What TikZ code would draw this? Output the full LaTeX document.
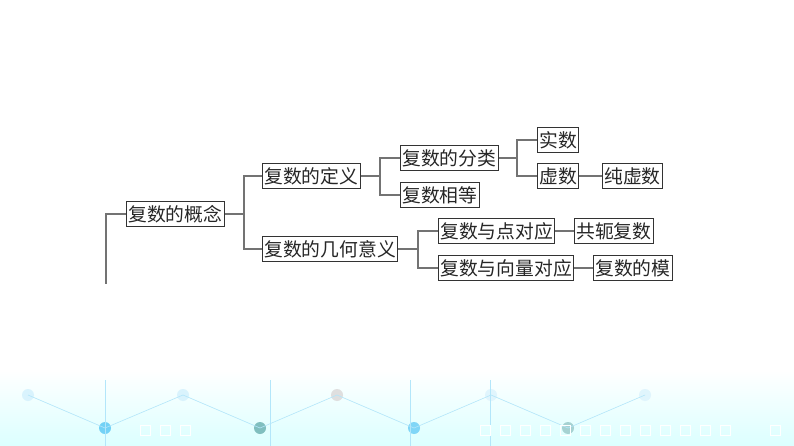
\documentclass[tikz,border=0pt]{standalone}
\usepackage{fontspec}
\newfontfamily\cjk{Noto Sans CJK SC}
\begin{document}
\begin{tikzpicture}[x=1pt,y=-1pt,
  bx/.style={draw=black!80,line width=0.9pt,fill=white,inner sep=1.8pt,anchor=west,font=\cjk\fontsize{18.8}{19}\selectfont,text=black!85,minimum height=25pt},
  ln/.style={draw=black!55,line width=1.2pt}]
\useasboundingbox (0,0) rectangle (794,446);
\shade[top color=white,bottom color=cyan!14] (0,370) rectangle (794,446);
\foreach \x/\y/\c in {28/395/cyan!15,183/395/cyan!15,337/395/gray!25,491/395/cyan!12,645/395/cyan!12,105/428/cyan!55,260/428/teal!50,414/428/cyan!50,568/428/teal!35}
  \fill[\c] (\x,\y) circle (6);
\draw[cyan!30,line width=0.6pt] (28,395)--(105,428)--(183,395)--(260,428)--(337,395)--(414,428)--(491,395)--(568,428)--(645,395);
\draw[cyan!30,line width=0.6pt] (105,380)--(105,446) (270,380)--(270,446) (410,380)--(410,446) (490,380)--(490,446);
\foreach \x in {140,160,180,480,500,520,540,560,580,600,620,640,660,680,700,720,770}
  \draw[white,line width=0.8pt] (\x,425) rectangle ++(10,10);
\node[bx] (a) at (126,214) {复数的概念};
\node[bx] (b) at (262,176) {复数的定义};
\node[bx] (c) at (262,249) {复数的几何意义};
\node[bx] (d) at (400,158) {复数的分类};
\node[bx] (e) at (400,195) {复数相等};
\node[bx] (f) at (537,140) {实数};
\node[bx] (g) at (537,176) {虚数};
\node[bx] (h) at (602,176) {纯虚数};
\node[bx] (i) at (438,231) {复数与点对应};
\node[bx] (j) at (574,231) {共轭复数};
\node[bx] (k) at (438,268) {复数与向量对应};
\node[bx] (l) at (593,268) {复数的模};
\coordinate (top0) at (106,284);
\draw[ln] (a.west) -| (top0);
\coordinate (m1) at (244,214);
\draw[ln] (a.east) -- (m1);
\draw[ln] (b.west) -| (m1) |- (c.west);
\coordinate (m2) at (380,176);
\draw[ln] (b.east) -- (m2);
\draw[ln] (d.west) -| (m2) |- (e.west);
\coordinate (m3) at (418,249);
\draw[ln] (c.east) -- (m3);
\draw[ln] (i.west) -| (m3) |- (k.west);
\coordinate (m4) at (517,158);
\draw[ln] (d.east) -- (m4);
\draw[ln] (f.west) -| (m4) |- (g.west);
\draw[ln] (g) -- (h);
\draw[ln] (i) -- (j);
\draw[ln] (k) -- (l);
\end{tikzpicture}
\end{document}
